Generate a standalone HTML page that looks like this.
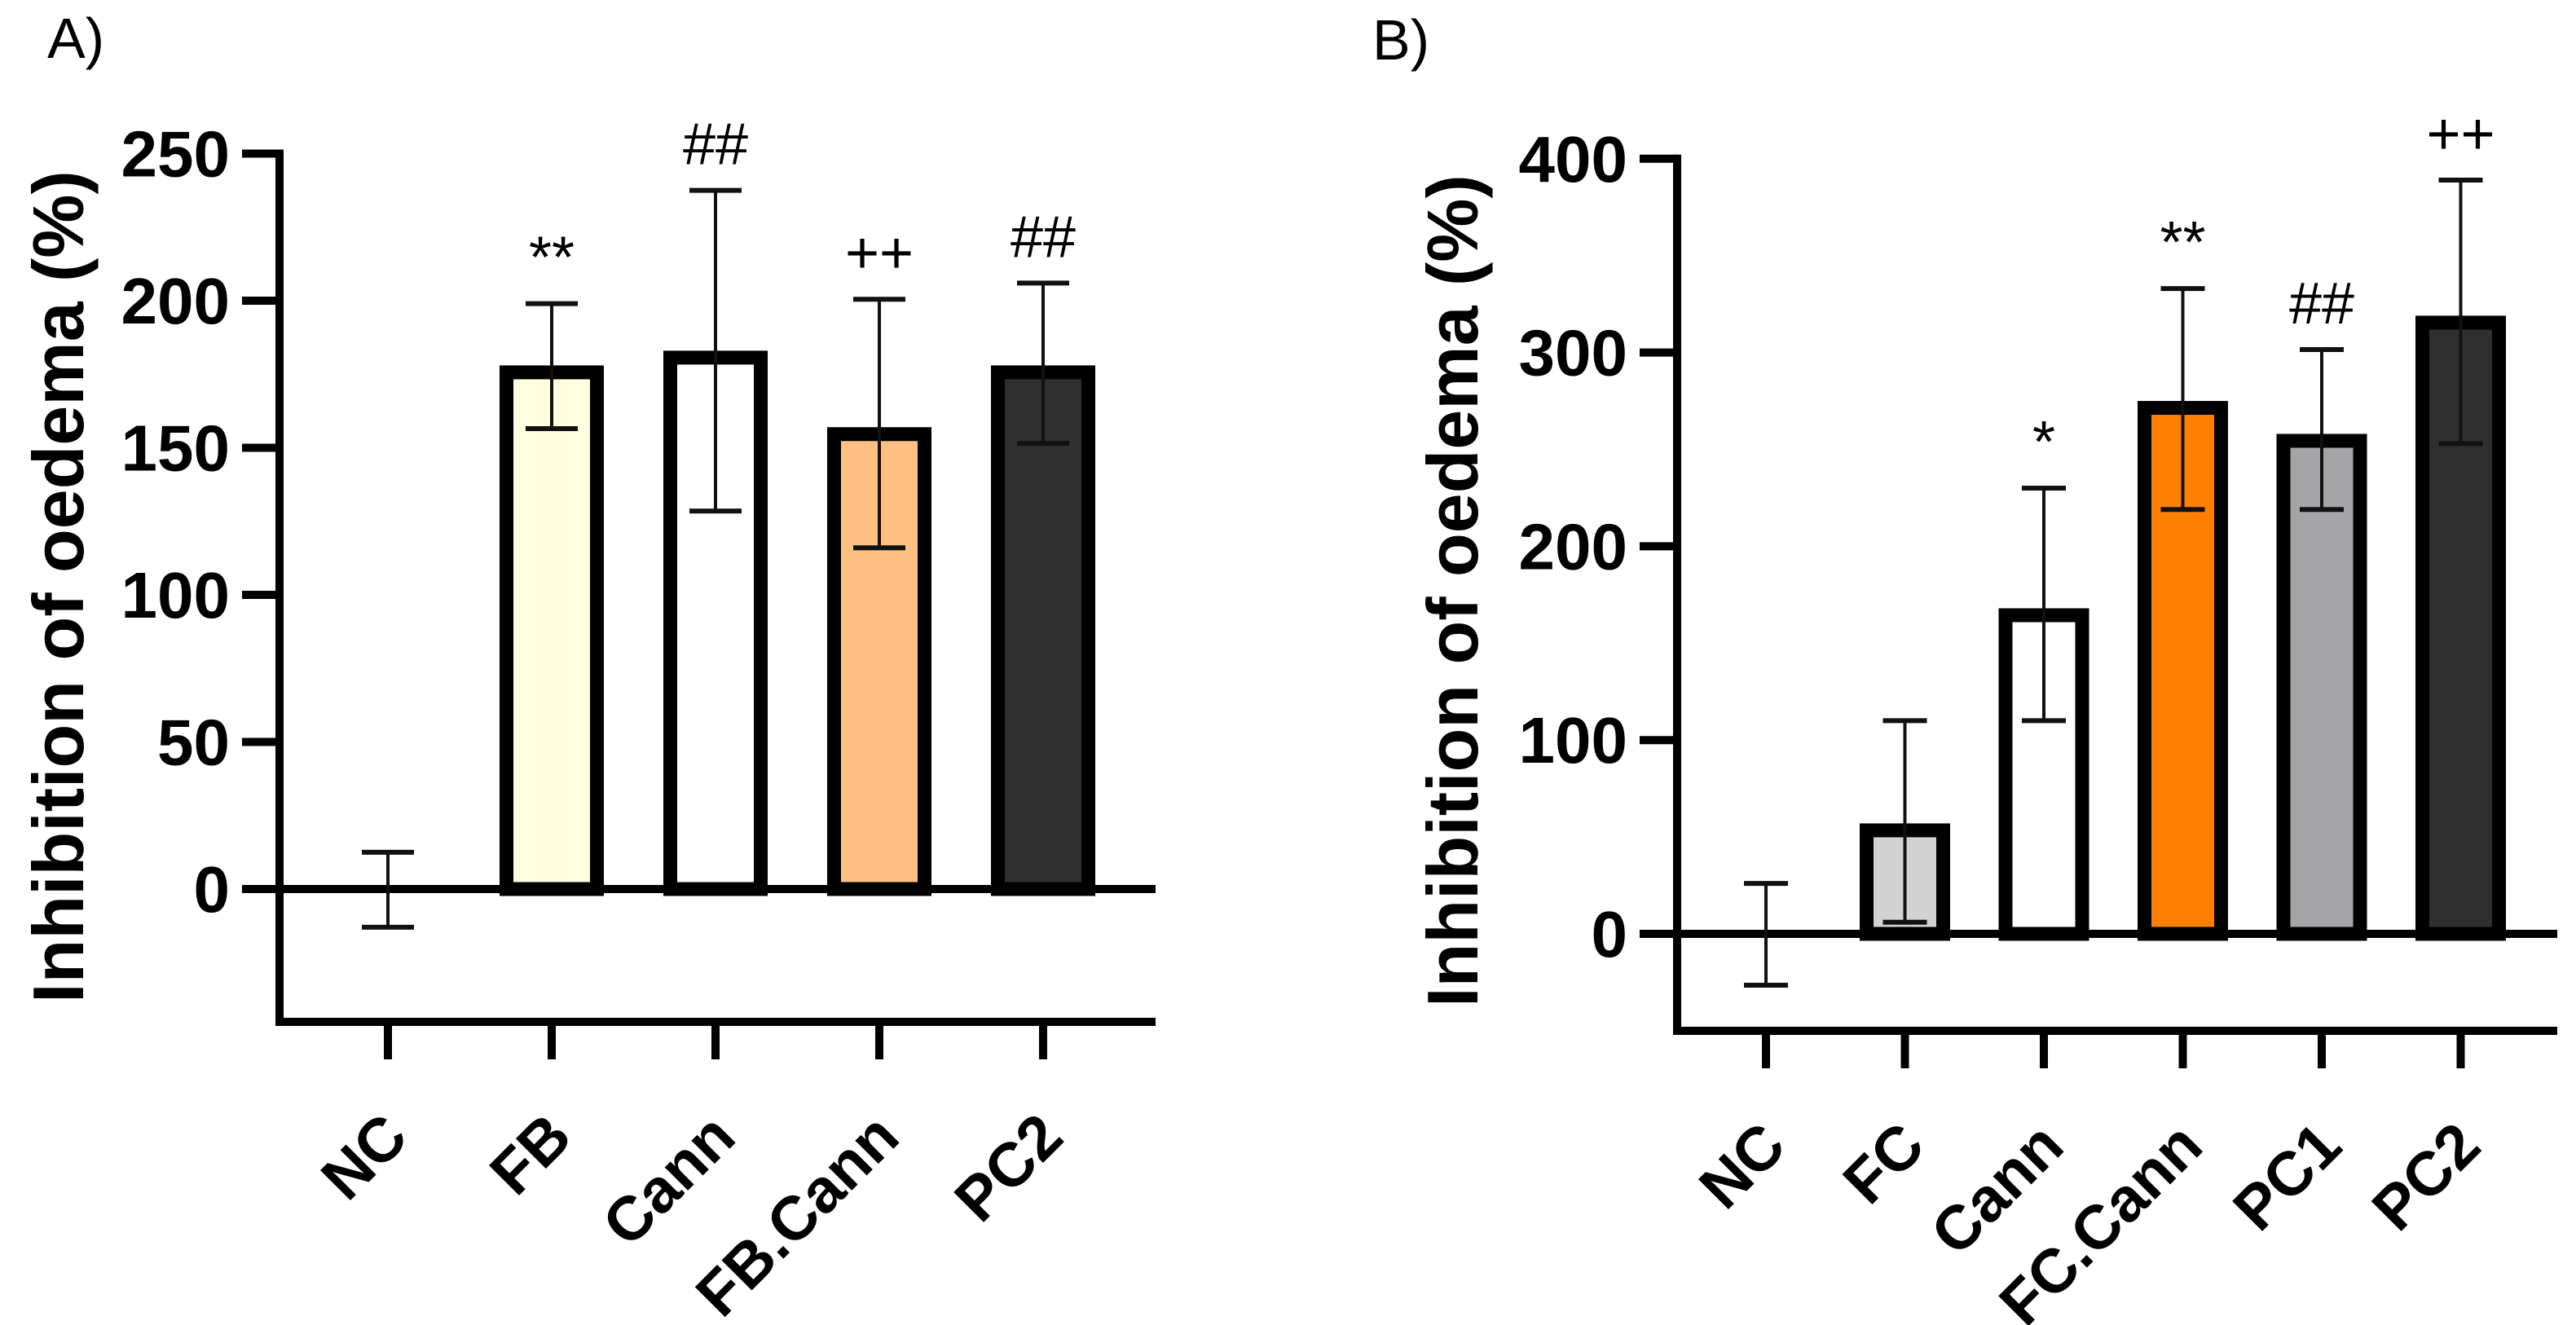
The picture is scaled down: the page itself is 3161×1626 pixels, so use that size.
<!DOCTYPE html>
<html><head><meta charset="utf-8"><style>
html,body{margin:0;padding:0;background:#fff;}
svg{display:block;}
text{font-family:"Liberation Sans",Arial,sans-serif;}
</style></head><body>
<svg id="chart" width="3161" height="1626" viewBox="0 0 3161 1626" xmlns="http://www.w3.org/2000/svg">
<text x="58" y="71" font-size="70">A)</text>
<text x="1684" y="73" font-size="70">B)</text>
<g id="pa"></g>
<g id="pb"></g>
</svg>
<script>
const catsA = ["NC","FB","Cann","FB.Cann","PC2"];
const valsA = [0,178,183,157,178];
const errHiA = [12.5,199,237.5,200.5,206];
const errLoA = [-13,156.5,128.5,116,151.5];
const colorsA = ["none","#fefde0","#ffffff","#ffc183","#2f2f2f"];
const annA = ["","**","##","++","##"];
const ticksA = [0,50,100,150,200,250];

const catsB = ["NC","FC","Cann","FC.Cann","PC1","PC2"];
const valsB = [0,57,168,275,258,319];
const errHiB = [26,110,230,333,301.5,389];
const errLoB = [-26.5,6,110,219,219,253];
const colorsB = ["none","#d3d3d3","#ffffff","#ff8000","#a5a5a8","#2f2f2f"];
const annB = ["","","*","**","##","++"];
const ticksB = [0,100,200,300,400];

const NS="http://www.w3.org/2000/svg";
function mk(tag,parent,attrs){const e=document.createElementNS(NS,tag);for(const k in attrs)e.setAttribute(k,attrs[k]);parent.appendChild(e);return e;}

function panel(g,cfg){
  const y=v=>cfg.y0-(v-0)*cfg.ppu;
  const x=i=>cfg.x0+i*cfg.step;
  cfg.cats.forEach((c,i)=>{
    const v=cfg.vals[i];
    if(cfg.colors[i]!=="none" && v>0){
      const r=mk('rect',g,{x:x(i)-cfg.bw/2+8.5,y:y(v)+8.5,width:cfg.bw-17,height:Math.max(0,cfg.y0-y(v)-8.5),fill:cfg.colors[i],stroke:'#000','stroke-width':17});
      
      
    }
  });
  const z=mk('line',g,{x1:cfg.axX-46,y1:cfg.y0,x2:cfg.xEnd,y2:cfg.y0,stroke:'#000','stroke-width':10});
  
  
  cfg.cats.forEach((c,i)=>{
    const eg=mk('g',g,{});
    
    
    const xi=x(i);
    mk('line',eg,{x1:xi,y1:y(cfg.hi[i]),x2:xi,y2:y(cfg.lo[i]),stroke:'#111','stroke-width':4});
    mk('line',eg,{x1:xi-cfg.cap,y1:y(cfg.hi[i]),x2:xi+cfg.cap,y2:y(cfg.hi[i]),stroke:'#111','stroke-width':6});
    mk('line',eg,{x1:xi-cfg.cap,y1:y(cfg.lo[i]),x2:xi+cfg.cap,y2:y(cfg.lo[i]),stroke:'#111','stroke-width':6});
    if(cfg.ann[i]){
      const t=mk('text',g,{x:xi,y:y(cfg.hi[i])-56,'font-size':72,'text-anchor':'middle','dominant-baseline':'central'});
      t.textContent=cfg.ann[i];
      
      
    }
  });
  const ax=mk('path',g,{d:`M${cfg.axX},${y(cfg.ticks[cfg.ticks.length-1])-5} V${cfg.axB} H${cfg.xEnd}`,fill:'none',stroke:'#000','stroke-width':10});
  
  
  cfg.ticks.forEach(t=>{
    mk('line',g,{x1:cfg.axX-46,y1:y(t),x2:cfg.axX,y2:y(t),stroke:'#000','stroke-width':10});
    const l=mk('text',g,{x:cfg.axX-61,y:y(t)+28,'font-size':80,'font-weight':'bold','text-anchor':'end'});
    l.textContent=t;
    
    
  });
  cfg.cats.forEach((c,i)=>{
    const xi=x(i);
    mk('line',g,{x1:xi,y1:cfg.axB,x2:xi,y2:cfg.axB+46,stroke:'#000','stroke-width':10});
    const ex=xi+28, ey=cfg.axB+145;
    const l=mk('text',g,{x:ex,y:ey,'font-size':76,'font-weight':'bold','text-anchor':'end',transform:`rotate(-45 ${ex} ${ey})`});
    l.textContent=c;
    
    
  });
  const tt=mk('text',g,{x:cfg.titleX,y:cfg.titleY,'font-size':88,'font-weight':'bold','text-anchor':'middle',transform:`rotate(-90 ${cfg.titleX} ${cfg.titleY})`});
  tt.textContent="Inhibition of oedema (%)";
  
  
}

panel(document.getElementById('pa'),{cats:catsA,vals:valsA,hi:errHiA,lo:errLoA,colors:colorsA,ann:annA,ticks:ticksA,
  y0:1091,ppu:3.61,x0:476,step:201,bw:128,cap:32,axX:343,axB:1254,xEnd:1418,titleX:102,titleY:720});
panel(document.getElementById('pb'),{cats:catsB,vals:valsB,hi:errHiB,lo:errLoB,colors:colorsB,ann:annB,ticks:ticksB,
  y0:1146,ppu:2.378,x0:2167,step:170.5,bw:111,cap:27,axX:2058,axB:1265,xEnd:3138,titleX:1813,titleY:725});
</script>
</body></html>
